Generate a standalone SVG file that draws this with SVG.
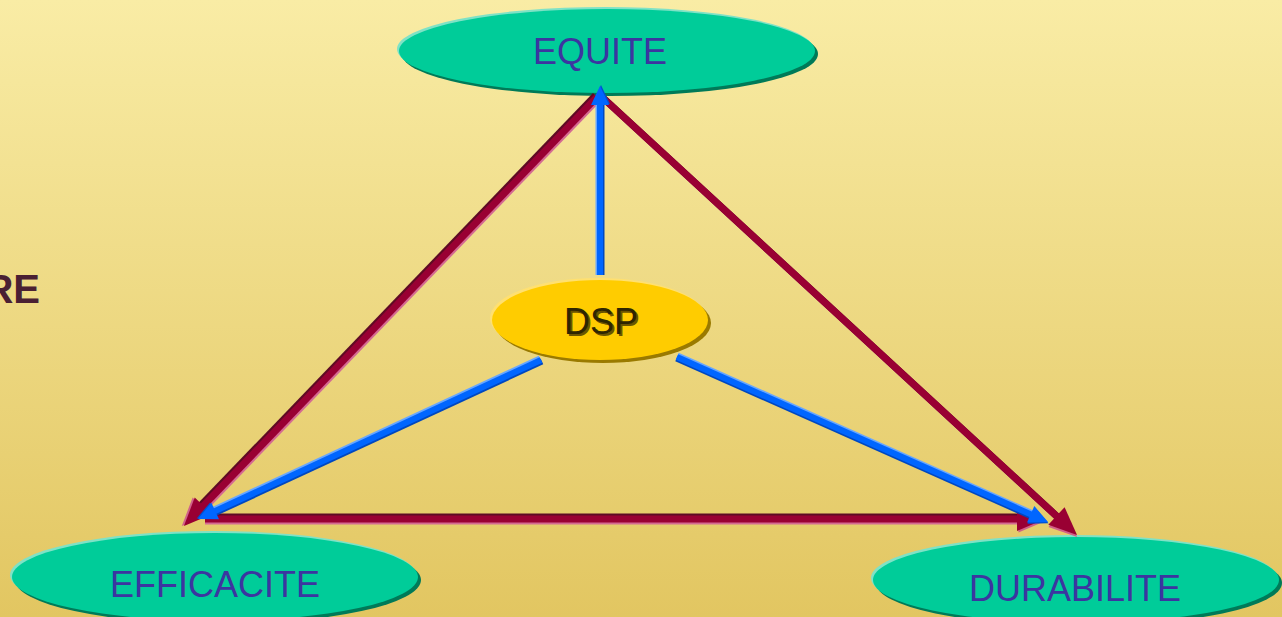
<svg xmlns="http://www.w3.org/2000/svg" width="1282" height="617" viewBox="0 0 1282 617">
<defs>
<linearGradient id="bg" x1="0" y1="0" x2="0" y2="1">
<stop offset="0" stop-color="#f9eca5"/>
<stop offset="1" stop-color="#e2c661"/>
</linearGradient>
<marker id="redHead" markerUnits="userSpaceOnUse" markerWidth="34" markerHeight="32" viewBox="-2 -14 34 32" refX="4" refY="0" orient="auto">
<path d="M0,-12 L28,0 L0,12 Z" fill="#d06088" transform="translate(1.5,1.5)"/>
<path d="M0,-12 L28,0 L0,12 Z" fill="#990033"/>
</marker>
<marker id="blueHead" markerUnits="userSpaceOnUse" markerWidth="26" markerHeight="24" viewBox="-2 -11 26 24" refX="3" refY="0" orient="auto">
<path d="M0,-9 L19,0 L0,9 Z" fill="#0050d0" transform="translate(1,1)"/>
<path d="M0,-9 L19,0 L0,9 Z" fill="#0066ff"/>
</marker>
<style>
.lbl{font-family:"Liberation Sans",Arial,sans-serif;font-size:36px;fill:#3c35a0;text-anchor:middle}
.ell{fill:#00cc99}
.ellSh{fill:#007a58}
.ellHi{fill:#7fe2c6}
.red{fill:none;stroke:#990033;stroke-width:7}
.redHi{fill:none;stroke:#d46a92;stroke-width:7}
.redDk{fill:none;stroke:#5e0a24;stroke-width:7}
.blue{fill:none;stroke:#0066ff;stroke-width:6}
.blueHi{fill:none;stroke:#66a6ff;stroke-width:6}
.blueDk{fill:none;stroke:#0048c0;stroke-width:6}
</style>
</defs>
<rect width="1282" height="617" fill="url(#bg)"/>
<text x="40" y="303" font-family="'Liberation Sans',Arial,sans-serif" font-size="40" font-weight="bold" fill="#4a2033" text-anchor="end">RE</text>

<g id="node-equite">
<ellipse class="ellSh" cx="610" cy="54" rx="208" ry="42"/>
<ellipse class="ellHi" cx="605" cy="49" rx="208" ry="42"/>
<ellipse class="ell" cx="607" cy="51" rx="208" ry="42"/>
<text class="lbl" x="600" y="64">EQUITE</text>
</g>
<g id="node-dsp">
<ellipse fill="#9a7a00" cx="603" cy="323" rx="108" ry="40"/>
<ellipse fill="#ffe070" cx="598" cy="318" rx="108" ry="40"/>
<ellipse fill="#ffcc00" cx="600" cy="320" rx="108" ry="40"/>
<text x="603" y="336" font-family="'Liberation Sans',Arial,sans-serif" font-size="36" fill="#6b5500" text-anchor="middle">DSP</text>
<text x="601" y="334" font-family="'Liberation Sans',Arial,sans-serif" font-size="36" fill="#2e2600" text-anchor="middle">DSP</text>
</g>
<g id="node-efficacite">
<ellipse class="ellSh" cx="218" cy="580" rx="203" ry="44"/>
<ellipse class="ellHi" cx="213" cy="575" rx="203" ry="44"/>
<ellipse class="ell" cx="215" cy="577" rx="203" ry="44"/>
<text class="lbl" x="215" y="597">EFFICACITE</text>
</g>
<g id="node-durabilite">
<ellipse class="ellSh" cx="1079" cy="583" rx="203" ry="43"/>
<ellipse class="ellHi" cx="1074" cy="578" rx="203" ry="43"/>
<ellipse class="ell" cx="1076" cy="580" rx="203" ry="43"/>
<text class="lbl" x="1075" y="601">DURABILITE</text>
</g>

<g id="connectors">
<path class="redHi" transform="translate(1.5,1.5)" d="M597,97 L200.6,508.7"/>
<path class="redDk" transform="translate(-1.5,-1.5)" d="M597,97 L200.6,508.7"/>
<path class="red" d="M597,97 L200.6,508.7" marker-end="url(#redHead)"/>

<path class="redHi" transform="translate(1.5,1.5)" d="M602,97 L1059.4,518.7"/>
<path class="redDk" transform="translate(-1.5,-1.5)" d="M602,97 L1059.4,518.7"/>
<path class="red" d="M602,97 L1059.4,518.7" marker-end="url(#redHead)"/>

<path class="redHi" transform="translate(0,2)" d="M205,519 L1021,519"/>
<path class="redDk" transform="translate(0,-2)" d="M205,519 L1021,519"/>
<path class="red" d="M205,519 L1021,519" marker-end="url(#redHead)"/>

<path class="blueHi" transform="translate(-1.5,0)" d="M600,275 L600,102"/>
<path class="blueDk" transform="translate(1.5,0)" d="M600,275 L600,102"/>
<path class="blue" d="M600,275 L600,102" marker-end="url(#blueHead)"/>

<path class="blueHi" transform="translate(-1,-1.5)" d="M541,360 L212.5,512.3"/>
<path class="blueDk" transform="translate(1,1.5)" d="M541,360 L212.5,512.3"/>
<path class="blue" d="M541,360 L212.5,512.3" marker-end="url(#blueHead)"/>

<path class="blueHi" transform="translate(0.5,-1.5)" d="M677,357 L1033.4,515.5"/>
<path class="blueDk" transform="translate(-0.5,1.5)" d="M677,357 L1033.4,515.5"/>
<path class="blue" d="M677,357 L1033.4,515.5" marker-end="url(#blueHead)"/>
</g>
</svg>
